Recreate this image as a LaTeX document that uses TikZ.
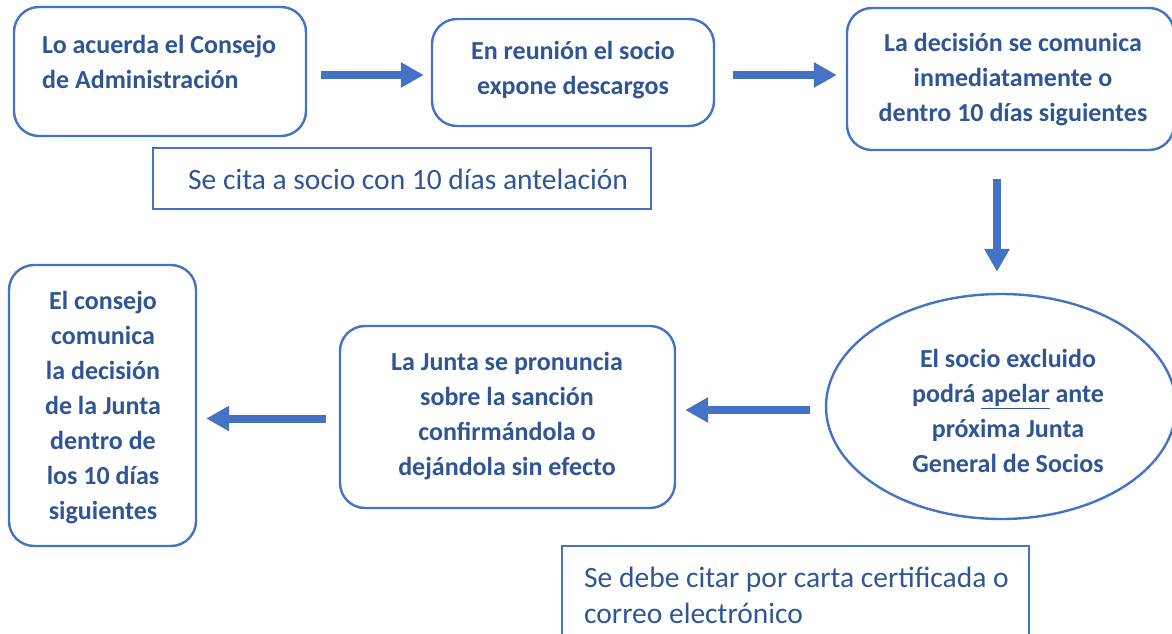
\documentclass[tikz,border=0pt]{standalone}
\usepackage{fontspec}
\setmainfont{Carlito}
\usetikzlibrary{arrows.meta,shapes.geometric}
\definecolor{bord}{HTML}{4472C4}
\definecolor{txt}{HTML}{2F5597}
\begin{document}
\begin{tikzpicture}[x=1pt,y=-1pt,
  rbox/.style={draw=bord,line width=2.4pt,rounded corners=25pt,fill=white,inner sep=0pt},
  sbox/.style={draw=bord,line width=2.2pt,inner sep=0pt},
  btext/.style={text=txt,font=\fontsize{26}{35}\selectfont\bfseries,inner sep=0pt},
  rtext/.style={text=txt,font=\fontsize{29.5}{36}\selectfont,inner sep=0pt,align=left},
  flow/.style={draw=bord,fill=none,line width=8pt,-{Triangle[length=23pt,width=24pt]}}]
\useasboundingbox (0,0) rectangle (1172,634);
\clip (0,0) rectangle (1172,634);
% boxes
\node[rbox,minimum width=292pt,minimum height=129pt] (b1) at (160,71.5) {};
\node[rbox,minimum width=282pt,minimum height=107pt] (b2) at (573,72.5) {};
\node[rbox,minimum width=327pt,minimum height=142pt] (b3) at (1010.5,79) {};
\node[sbox,minimum width=498pt,minimum height=61pt] (r1) at (402,178.5) {};
\node[draw=bord,line width=2.4pt,ellipse,minimum width=350pt,minimum height=225pt,inner sep=0pt] (el) at (1001,406.5) {};
\node[rbox,minimum width=335pt,minimum height=182pt] (b4) at (507.5,417) {};
\node[rbox,minimum width=187pt,minimum height=281pt] (b5) at (102.5,405.5) {};
\node[sbox,minimum width=467pt,minimum height=104pt] (r2) at (795.5,598) {};
% texts
\node[btext,align=left,anchor=west] (t1) at (42,62) {Lo acuerda el Consejo\\de Administración};
\node[btext,align=center] (t2) at (573,70.5) {En reunión el socio\\expone descargos};
\node[btext,align=center] (t3) at (1013,79.5) {La decisión se comunica\\inmediatamente o\\dentro 10 días siguientes};
\node[rtext,anchor=west] (t4) at (188,179) {Se cita a socio con 10 días antelación};
\node[btext,align=center] (t5) at (1008,411) {El socio excluido\\podrá \underline{apelar} ante\\próxima Junta\\General de Socios};
\node[btext,align=center] (t6) at (507,416.5) {La Junta se pronuncia\\sobre la sanción\\confirmándola o\\dejándola sin efecto};
\node[btext,align=center] (t7) at (103,407.5) {El consejo\\comunica\\la decisión\\de la Junta\\dentro de\\los 10 días\\siguientes};
\node[rtext,anchor=west] (t8) at (584,595) {Se debe citar por carta certificada o\\correo electrónico};
% arrows
\draw[flow] ([xshift=14pt,yshift=-3.5pt]b1.east) -- ([xshift=-7pt,yshift=-3.5pt]b1.east -| b2.west);
\draw[flow] ([xshift=18pt,yshift=-2.5pt]b2.east) -- ([xshift=-9pt,yshift=-2.5pt]b2.east -| b3.west);
\draw[flow] ([xshift=-13.5pt,yshift=-28pt]b3.south) -- ([xshift=-13.5pt,yshift=21pt]b3.south |- el.north);
\draw[flow] ([xshift=-15pt,yshift=-3.5pt]el.west) -- ([xshift=9pt,yshift=-3.5pt]el.west -| b4.east);
\draw[flow] ([xshift=-13pt,yshift=-1.5pt]b4.west) -- ([xshift=9pt,yshift=-1.5pt]b4.west -| b5.east);
\end{tikzpicture}
\end{document}
